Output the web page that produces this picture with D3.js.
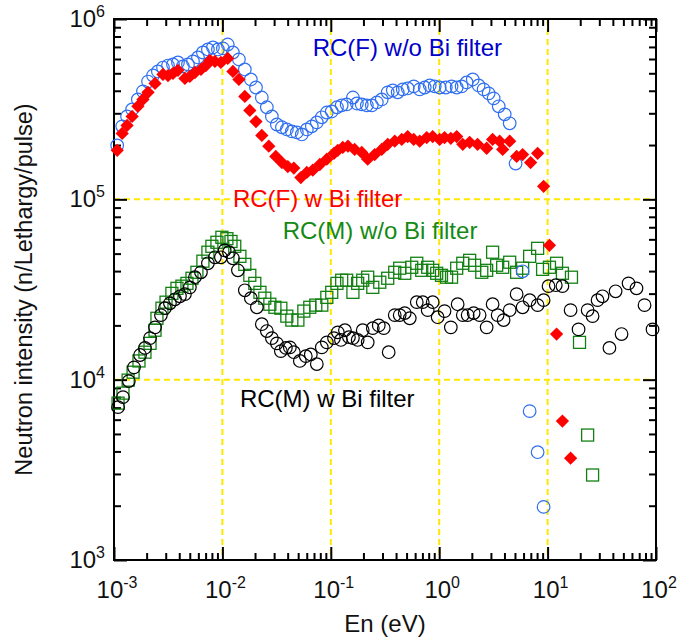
<!DOCTYPE html>
<html>
<head>
<meta charset="utf-8">
<script src="https://cdn.jsdelivr.net/npm/d3@7"></script>
<style>
    body { margin: 0; background: #fff; }
    svg { display: block; font-family: "Liberation Sans", Arial, sans-serif; }
</style>
</head>
<body>
<svg id="chart" width="679" height="639"></svg>
<script>
//tick decades
const xDecades = [-3, -2, -1, 0, 1, 2];
const yDecades = [3, 4, 5, 6];
const xGridValues = [1e-2, 1e-1, 1, 10];
const yGridValues = [1e4, 1e5];

//RC(F) w/o Bi filter
const blueE = [1.07e-3, 1.19e-3, 1.32e-3, 1.47e-3, 1.66e-3, 1.85e-3, 2.06e-3, 2.29e-3, 2.54e-3, 2.83e-3,
    3.15e-3, 3.50e-3, 3.89e-3, 4.32e-3, 4.81e-3, 5.35e-3, 5.95e-3, 6.61e-3, 7.35e-3, 8.18e-3,
    9.09e-3, 1.01e-2, 1.12e-2, 1.25e-2, 1.42e-2, 1.61e-2, 1.83e-2, 2.04e-2, 2.31e-2, 2.57e-2,
    2.86e-2, 3.18e-2, 3.54e-2, 3.93e-2, 4.37e-2, 4.86e-2, 5.40e-2, 6.01e-2, 6.68e-2, 7.43e-2,
    8.26e-2, 9.19e-2, 0.102, 0.114, 0.126, 0.140, 0.160, 0.174, 0.193, 0.215,
    0.239, 0.266, 0.295, 0.335, 0.373, 0.414, 0.461, 0.512, 0.582, 0.661,
    0.735, 0.818, 0.909, 1.01, 1.15, 1.30, 1.45, 1.61, 1.79, 2.04,
    2.31, 2.57, 2.86, 3.18, 3.54, 4.02, 4.47, 5.07, 5.88, 6.83, 8.09, 9.19];
const blueI = [1.99e5, 2.54e5, 2.88e5, 3.15e5, 3.58e5, 3.97e5, 4.50e5, 4.86e5, 5.12e5, 5.38e5,
    5.52e5, 5.60e5, 5.74e5, 5.46e5, 5.60e5, 5.82e5, 6.12e5, 6.52e5, 6.78e5, 6.95e5,
    6.78e5, 6.87e5, 7.22e5, 6.52e5, 5.97e5, 5.25e5, 4.62e5, 4.17e5, 3.67e5, 3.24e5,
    2.88e5, 2.60e5, 2.51e5, 2.44e5, 2.38e5, 2.35e5, 2.29e5, 2.44e5, 2.54e5, 2.67e5,
    2.85e5, 3.03e5, 3.07e5, 3.24e5, 3.32e5, 3.36e5, 3.67e5, 3.40e5, 3.36e5, 3.32e5,
    3.32e5, 3.45e5, 3.58e5, 3.92e5, 4.02e5, 3.92e5, 4.07e5, 4.12e5, 4.23e5, 4.07e5,
    4.17e5, 4.28e5, 4.23e5, 4.17e5, 4.17e5, 4.23e5, 4.17e5, 4.23e5, 4.45e5, 4.62e5,
    4.28e5, 4.07e5, 3.87e5, 3.63e5, 3.28e5, 2.96e5, 2.64e5, 1.58e5, 3.99e4, 6.69e3, 3.96e3, 1.97e3];

//RC(F) w Bi filter
const redE = [1.07e-3, 1.19e-3, 1.32e-3, 1.47e-3, 1.66e-3, 1.85e-3, 2.06e-3, 2.39e-3, 2.83e-3, 3.15e-3,
    3.50e-3, 3.89e-3, 4.51e-3, 5.01e-3, 5.58e-3, 6.34e-3, 7.04e-3, 7.67e-3, 8.53e-3, 9.69e-3,
    1.12e-2, 1.25e-2, 1.42e-2, 1.61e-2, 1.79e-2, 2.04e-2, 2.31e-2, 2.68e-2, 3.11e-2, 3.54e-2,
    4.01e-2, 4.56e-2, 5.29e-2, 6.01e-2, 6.82e-2, 7.92e-2, 9.19e-2, 0.107, 0.116, 0.129,
    0.144, 0.166, 0.193, 0.219, 0.254, 0.295, 0.335, 0.389, 0.451, 0.512,
    0.582, 0.661, 0.767, 0.871, 1.01, 1.12, 1.28, 1.45, 1.65, 1.91,
    2.26, 2.74, 3.11, 3.61, 3.85, 4.47, 5.18, 5.88, 6.97, 8.09,
    9.19, 10.4, 12.1, 13.7, 16.3];
const redI = [1.87e5, 2.32e5, 2.57e5, 2.88e5, 3.28e5, 3.58e5, 3.92e5, 4.39e5, 4.93e5, 4.86e5,
    4.99e5, 5.19e5, 4.68e5, 4.80e5, 5.05e5, 5.25e5, 5.52e5, 5.89e5, 5.82e5, 5.74e5,
    6.04e5, 5.12e5, 4.62e5, 3.72e5, 3.11e5, 2.70e5, 2.26e5, 1.97e5, 1.73e5, 1.60e5,
    1.52e5, 1.49e5, 1.32e5, 1.41e5, 1.45e5, 1.56e5, 1.67e5, 1.80e5, 1.87e5, 1.94e5,
    1.97e5, 1.89e5, 1.82e5, 1.67e5, 1.77e5, 1.89e5, 2.02e5, 2.10e5, 2.15e5, 2.23e5,
    2.15e5, 2.10e5, 2.20e5, 2.23e5, 2.15e5, 2.20e5, 2.18e5, 2.23e5, 2.02e5, 2.07e5,
    2.02e5, 1.92e5, 2.15e5, 2.10e5, 1.89e5, 2.10e5, 1.73e5, 1.77e5, 1.60e5, 1.80e5,
    1.18e5, 5.56e4, 1.79e4, 5.89e3, 3.67e3];

//RC(M) w/o Bi filter
const greenE = [1.09e-3, 1.21e-3, 1.35e-3, 1.50e-3, 1.70e-3, 1.93e-3, 2.15e-3, 2.39e-3, 2.49e-3, 2.77e-3,
    3.02e-3, 3.42e-3, 3.81e-3, 4.23e-3, 4.71e-3, 5.24e-3, 5.82e-3, 6.61e-3, 7.35e-3, 8.00e-3,
    8.90e-3, 9.89e-3, 1.10e-2, 1.20e-2, 1.30e-2, 1.45e-2, 1.61e-2, 1.79e-2, 1.99e-2, 2.22e-2,
    2.46e-2, 2.74e-2, 3.05e-2, 3.46e-2, 3.93e-2, 4.37e-2, 4.97e-2, 5.64e-2, 6.40e-2, 7.27e-2,
    8.26e-2, 9.19e-2, 0.102, 0.114, 0.126, 0.140, 0.160, 0.177, 0.197, 0.219,
    0.244, 0.283, 0.335, 0.389, 0.432, 0.481, 0.558, 0.621, 0.690, 0.783,
    0.871, 0.948, 1.05, 1.17, 1.30, 1.45, 1.65, 1.91, 2.12, 2.47,
    2.74, 3.11, 3.39, 3.85, 4.47, 5.18, 5.88, 6.83, 8.09, 8.99,
    10.4, 12.1, 13.7, 16.6, 19.7, 23.4, 26.0];
const greenI = [7.41e3, 8.42e3, 9.94e3, 1.10e4, 1.27e4, 1.42e4, 1.59e4, 1.88e4, 2.19e4, 2.49e4,
    2.69e4, 3.01e4, 3.21e4, 3.30e4, 3.42e4, 3.65e4, 3.94e4, 4.54e4, 5.09e4, 5.49e4,
    5.78e4, 6.16e4, 6.05e4, 5.84e4, 5.49e4, 4.83e4, 4.36e4, 3.79e4, 3.42e4, 3.05e4,
    2.83e4, 2.62e4, 2.52e4, 2.49e4, 2.25e4, 2.14e4, 2.14e4, 2.40e4, 2.52e4, 2.59e4,
    2.59e4, 2.86e4, 3.05e4, 3.42e4, 3.56e4, 3.56e4, 3.05e4, 3.42e4, 3.56e4, 3.70e4,
    3.25e4, 3.47e4, 3.65e4, 3.94e4, 4.15e4, 3.89e4, 4.20e4, 4.42e4, 4.04e4, 4.20e4,
    4.04e4, 3.89e4, 3.79e4, 3.70e4, 3.70e4, 4.15e4, 4.42e4, 4.59e4, 4.31e4, 3.94e4,
    4.04e4, 5.09e4, 4.31e4, 4.20e4, 4.48e4, 3.94e4, 4.15e4, 4.83e4, 5.35e4, 4.09e4,
    4.20e4, 4.42e4, 3.89e4, 3.70e4, 1.61e4, 4.93e3, 2.96e3];

//RC(M) w Bi filter
const blackE = [1.09e-3, 1.21e-3, 1.37e-3, 1.53e-3, 1.74e-3, 1.93e-3, 2.15e-3, 2.39e-3, 2.71e-3, 2.95e-3,
    3.28e-3, 3.65e-3, 4.06e-3, 4.51e-3, 5.01e-3, 5.58e-3, 6.34e-3, 7.35e-3, 8.53e-3, 9.69e-3,
    1.05e-2, 1.15e-2, 1.25e-2, 1.39e-2, 1.61e-2, 1.83e-2, 2.08e-2, 2.31e-2, 2.57e-2, 2.86e-2,
    3.18e-2, 3.46e-2, 3.85e-2, 4.19e-2, 4.56e-2, 5.18e-2, 5.88e-2, 6.54e-2, 7.43e-2, 8.26e-2,
    9.19e-2, 0.107, 0.116, 0.124, 0.135, 0.147, 0.160, 0.177, 0.197, 0.219,
    0.244, 0.277, 0.308, 0.342, 0.389, 0.432, 0.481, 0.535, 0.621, 0.705,
    0.783, 0.871, 0.968, 1.12, 1.28, 1.48, 1.65, 1.83, 2.08, 2.36,
    2.74, 3.11, 3.46, 3.93, 4.47, 5.18, 5.88, 6.83, 8.09, 9.19,
    10.2, 11.9, 13.7, 16.3, 19.3, 23.4, 26.0, 28.9, 32.1, 37.2,
    42.4, 48.1, 55.8, 66.1, 78.4, 92.9];
const blackI = [7.04e3, 8.00e3, 9.82e3, 1.17e4, 1.37e4, 1.50e4, 1.70e4, 1.95e4, 2.28e4, 2.49e4,
    2.65e4, 2.79e4, 2.90e4, 2.98e4, 3.25e4, 3.70e4, 3.94e4, 4.42e4, 4.77e4, 4.77e4,
    5.21e4, 5.09e4, 4.71e4, 4.04e4, 3.13e4, 2.83e4, 2.52e4, 2.03e4, 1.86e4, 1.70e4,
    1.59e4, 1.44e4, 1.50e4, 1.51e4, 1.42e4, 1.27e4, 1.35e4, 1.38e4, 1.22e4, 1.51e4,
    1.61e4, 1.70e4, 1.83e4, 1.66e4, 1.88e4, 1.72e4, 1.70e4, 1.66e4, 1.88e4, 1.61e4,
    1.93e4, 2.00e4, 1.93e4, 1.42e4, 2.28e4, 2.28e4, 2.34e4, 2.19e4, 2.69e4, 2.69e4,
    2.43e4, 2.69e4, 2.22e4, 2.40e4, 1.95e4, 2.62e4, 2.28e4, 2.28e4, 2.34e4, 2.28e4,
    1.95e4, 2.62e4, 2.28e4, 2.14e4, 2.43e4, 2.98e4, 2.52e4, 2.76e4, 2.59e4, 2.76e4,
    3.30e4, 3.34e4, 3.30e4, 2.43e4, 1.90e4, 2.43e4, 2.25e4, 2.76e4, 2.90e4, 1.50e4,
    3.09e4, 1.79e4, 3.42e4, 3.21e4, 2.59e4, 1.90e4];

//annotation texts, anchored at their left baseline
const labels = [
    {text: "RC(F) w/o Bi filter", E: 6.8e-2, I: 6.25e5, color: "#0000cc"},
    {text: "RC(F) w Bi filter", E: 1.25e-2, I: 9.1e4, color: "#ff0000"},
    {text: "RC(M) w/o Bi filter", E: 3.6e-2, I: 6.0e4, color: "#138a13"},
    {text: "RC(M) w Bi filter", E: 1.45e-2, I: 7.05e3, color: "#000000"}
];

const svg = d3.select("#chart");
const margin = {left: 114, top: 19, right: 656, bottom: 560};

let x = d3.scaleLog().domain([1e-3, 1e2]).range([margin.left, margin.right]);
let y = d3.scaleLog().domain([1e3, 1e6]).range([margin.bottom, margin.top]);

//minor tick values
let xMinor = [];
for (let d of xDecades.slice(0, -1))
    for (let m = 2; m <= 9; m++) xMinor.push(m * Math.pow(10, d));
let yMinor = [];
for (let d of yDecades.slice(0, -1))
    for (let m = 2; m <= 9; m++) yMinor.push(m * Math.pow(10, d));
let xMajor = xDecades.map(d => Math.pow(10, d));
let yMajor = yDecades.map(d => Math.pow(10, d));

//grid
let grid = svg.append("g").attr("id", "grid")
    .attr("stroke", "#ffe800")
    .attr("stroke-width", 2)
    .attr("stroke-dasharray", "6,4");
grid.selectAll(".vgrid").data(xGridValues).join("line")
    .attr("class", "vgrid")
    .attr("x1", d => x(d)).attr("x2", d => x(d))
    .attr("y1", margin.top).attr("y2", margin.bottom);
grid.selectAll(".hgrid").data(yGridValues).join("line")
    .attr("class", "hgrid")
    .attr("x1", margin.left).attr("x2", margin.right)
    .attr("y1", d => y(d)).attr("y2", d => y(d));

//axes with inside ticks
function drawAxis(axisFn, scale, values, size, transform){
    let g = svg.append("g")
        .attr("transform", transform)
        .call(axisFn(scale).tickValues(values).tickSize(-size).tickSizeOuter(0).tickFormat(""));
    g.select(".domain").remove();
    g.selectAll("line").attr("stroke", "#000").attr("stroke-width", 2);
}
let axes = [
    [d3.axisBottom, x, `translate(0,${margin.bottom})`],
    [d3.axisTop, x, `translate(0,${margin.top})`],
    [d3.axisLeft, y, `translate(${margin.left},0)`],
    [d3.axisRight, y, `translate(${margin.right},0)`]
];
for (let [fn, scale, tr] of axes){
    let isX = scale === x;
    drawAxis(fn, scale, isX ? xMajor : yMajor, 13, tr);
    drawAxis(fn, scale, isX ? xMinor : yMinor, 7, tr);
}

//frame
svg.append("rect")
    .attr("x", margin.left).attr("y", margin.top)
    .attr("width", margin.right - margin.left)
    .attr("height", margin.bottom - margin.top)
    .attr("fill", "none").attr("stroke", "#000").attr("stroke-width", 2);

//tick labels with superscript exponents
function powerLabel(sel){
    sel.append("tspan").text("10");
    sel.append("tspan")
        .attr("font-size", 16)
        .attr("dy", -10)
        .text(d => d < 0 ? "-" + (-d) : d);
}
svg.append("g").selectAll("text").data(xDecades).join("text")
    .attr("x", d => x(Math.pow(10, d)) + 3)
    .attr("y", 598)
    .attr("text-anchor", "middle")
    .attr("font-size", 24)
    .attr("fill", "#111")
    .call(powerLabel);
svg.append("g").selectAll("text").data(yDecades).join("text")
    .attr("x", 105)
    .attr("y", d => y(Math.pow(10, d)) + 8)
    .attr("text-anchor", "end")
    .attr("font-size", 24)
    .attr("fill", "#111")
    .call(powerLabel);

//axis titles
svg.append("text")
    .attr("x", 385).attr("y", 632)
    .attr("text-anchor", "middle")
    .attr("font-size", 24)
    .attr("fill", "#111")
    .text("En (eV)");
svg.append("text")
    .attr("transform", `translate(32,${(margin.top + margin.bottom) / 2}) rotate(-90)`)
    .attr("text-anchor", "middle")
    .attr("font-size", 23.5)
    .attr("fill", "#111")
    .text("Neutron intensity (n/Lethargy/pulse)");

//markers
let zip = (es, is) => es.map((e, i) => ({E: e, I: is[i]}));
let marks = svg.append("g").attr("id", "marks");

marks.append("g").selectAll("rect").data(zip(greenE, greenI)).join("rect")
    .attr("x", d => x(d.E) - 6).attr("y", d => y(d.I) - 6)
    .attr("width", 12).attr("height", 12)
    .attr("fill", "none").attr("stroke", "#128012").attr("stroke-width", 1.3);

marks.append("g").selectAll("circle").data(zip(blackE, blackI)).join("circle")
    .attr("cx", d => x(d.E)).attr("cy", d => y(d.I)).attr("r", 6.3)
    .attr("fill", "none").attr("stroke", "#000").attr("stroke-width", 1.2);

marks.append("g").selectAll("circle").data(zip(blueE, blueI)).join("circle")
    .attr("cx", d => x(d.E)).attr("cy", d => y(d.I)).attr("r", 6.3)
    .attr("fill", "none").attr("stroke", "#2f6ff0").attr("stroke-width", 1.2);

let diamond = d3.symbol().type(d3.symbolSquare).size(88);
marks.append("g").selectAll("path").data(zip(redE, redI)).join("path")
    .attr("d", diamond)
    .attr("transform", d => `translate(${x(d.E)},${y(d.I)}) rotate(45)`)
    .attr("fill", "#ff0000");

//annotations
svg.append("g").selectAll("text").data(labels).join("text")
    .attr("x", d => x(d.E)).attr("y", d => y(d.I))
    .attr("font-size", 24)
    .attr("fill", d => d.color)
    .text(d => d.text);
</script>
</body>
</html>
